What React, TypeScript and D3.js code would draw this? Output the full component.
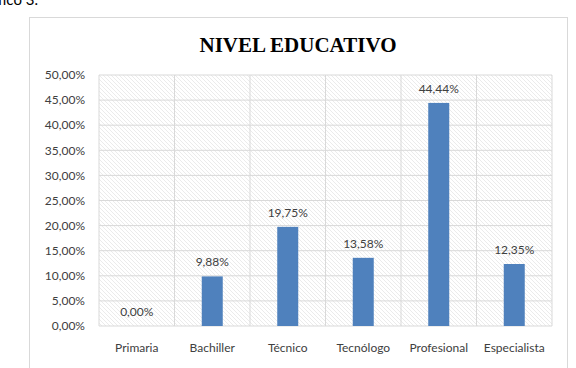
import React from "react";
import * as d3 from "d3";

const categories = ["Primaria", "Bachiller", "Técnico", "Tecnólogo", "Profesional", "Especialista"];
const values = [0.0, 9.88, 19.75, 13.58, 44.44, 12.35];
const yTicks = [0, 5, 10, 15, 20, 25, 30, 35, 40, 45, 50];
const title = "NIVEL EDUCATIVO";
const caption = "Gráfico 3.";

const W = 576, H = 368;
const plot = { left: 99, right: 552, top: 75, bottom: 326 };
const fmt = (v: number) => v.toFixed(2).replace(".", ",") + "%";
const font = "Lato, 'Open Sans', sans-serif";

export default function App() {
  const x = d3.scaleBand<string>().domain(categories).range([plot.left, plot.right]).padding(0);
  const y = d3.scaleLinear().domain([0, 50]).range([plot.bottom, plot.top]);
  const barW = 21;
  return (
    <svg width={W} height={H} style={{ position: "absolute", left: 0, top: 0, background: "#fff" }}>
      <defs>
        <pattern id="hatch" width="4" height="4" patternUnits="userSpaceOnUse">
          <rect width="4" height="4" fill="#ffffff" />
          <path d="M-1,-1 L5,5 M-1,3 L1,5 M3,-1 L5,1" stroke="#e3e3e3" strokeWidth="0.7" />
        </pattern>
      </defs>
      <text x={38} y={5} textAnchor="end" fontFamily={font} fontSize={15} fill="#000">{caption}</text>
      <rect x={29.5} y={17.5} width={538} height={360} fill="#fff" stroke="#d9d9d9" strokeWidth={1} />
      <text x={298} y={52} textAnchor="middle" fontFamily="'Liberation Serif', serif" fontWeight="bold" fontSize={21} fill="#000">{title}</text>
      <rect x={plot.left} y={plot.top} width={plot.right - plot.left} height={plot.bottom - plot.top} fill="url(#hatch)" />
      {yTicks.map((t) => (
        <g key={t}>
          <line x1={plot.left} x2={plot.right} y1={y(t)} y2={y(t)} stroke="#d9d9d9" strokeWidth={1} />
          <text x={85} y={y(t)} dy="0.35em" textAnchor="end" fontFamily={font} fontSize={12} fill="#404040">{fmt(t)}</text>
        </g>
      ))}
      {categories.map((c) => (
        <line key={c} x1={x(c)!} x2={x(c)!} y1={plot.top} y2={plot.bottom} stroke="#d9d9d9" strokeWidth={1} />
      ))}
      <line x1={plot.right} x2={plot.right} y1={plot.top} y2={plot.bottom} stroke="#d9d9d9" strokeWidth={1} />
      {categories.map((c, i) => {
        const cx = x(c)! + x.bandwidth() / 2;
        const v = values[i];
        return (
          <g key={c}>
            <rect x={cx - barW / 2} y={y(v)} width={barW} height={y(0) - y(v)} fill="#4f81bd" />
            <text x={cx} y={y(v) - 10} textAnchor="middle" fontFamily={font} fontSize={12} fill="#404040">{fmt(v)}</text>
            <text x={cx} y={348} dy="0.35em" textAnchor="middle" fontFamily={font} fontSize={12} fill="#404040">{c}</text>
          </g>
        );
      })}
    </svg>
  );
}
